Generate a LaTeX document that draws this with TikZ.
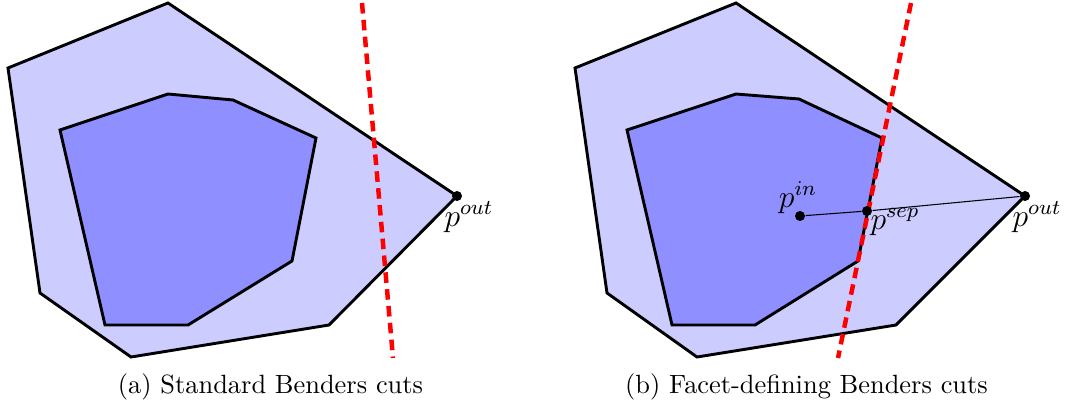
\documentclass[tikz,border=0pt]{standalone}
\usepackage{amsmath, amssymb}
\usepackage{xcolor}
\usepackage{tikz}

\tikzset{
  regione/.style={fill=blue!20, draw=black, line width=1.1pt},
  nucleo/.style={fill=blue!44, draw=black, line width=1.1pt},
  taglio/.style={red, line width=1.7pt, dash pattern=on 4pt off 2.4pt},
  punto/.style={circle, fill=black, inner sep=0pt, minimum size=3.8pt},
  etichetta/.style={anchor=base, inner sep=0pt},
  punto lbl/.style={etichetta, font=\fontsize{11.5}{14}\selectfont},
}

\begin{document}
\begin{tikzpicture}[x=0.3788pt, y=-0.3788pt]
    \useasboundingbox (0,0) rectangle (1065,409);

    % Pannello (a): tagli standard
    \draw[regione] (168,3) -- (8,68) -- (40,293) -- (131,357) -- (329,325) -- (457,196) -- cycle;
    \draw[nucleo] (60,130) -- (168,94) -- (233,100) -- (316,138) -- (292,261) -- (188,325) -- (105,325) -- cycle;
    \draw[taglio] (362,3) -- (393,358);
    \node[punto] (pouta) at (457,196) {};
    \node[punto lbl] (lpouta) at (469,226) {$p^{out}$};

    % Pannello (b): tagli facet-defining
    \draw[regione] (736,3) -- (575,68) -- (607,293) -- (697,357) -- (896,325) -- (1025,196) -- cycle;
    \draw[nucleo] (627,130) -- (736,94) -- (799,99) -- (882,138) -- (858,261) -- (755,325) -- (672,325) -- cycle;
    \draw[taglio] (911,3) -- (838,358);
    \node[punto] (pin) at (800,216) {};
    \node[punto] (psep) at (867,211) {};
    \node[punto] (poutb) at (1025,196) {};
    \draw (pin) -- (psep) -- (poutb);
    \node[punto lbl] (lpin) at (798,207) {$p^{in}$};
    \node[punto lbl] (lpsep) at (895,229) {$p^{sep}$};
    \node[punto lbl] (lpoutb) at (1037,226) {$p^{out}$};

    % Didascalie
    \node[etichetta] (capa) at (270.5,393) {(a) Standard Benders cuts};
    \node[etichetta] (capb) at (806.5,393) {(b) Facet-defining Benders cuts};
\end{tikzpicture}
\end{document}
